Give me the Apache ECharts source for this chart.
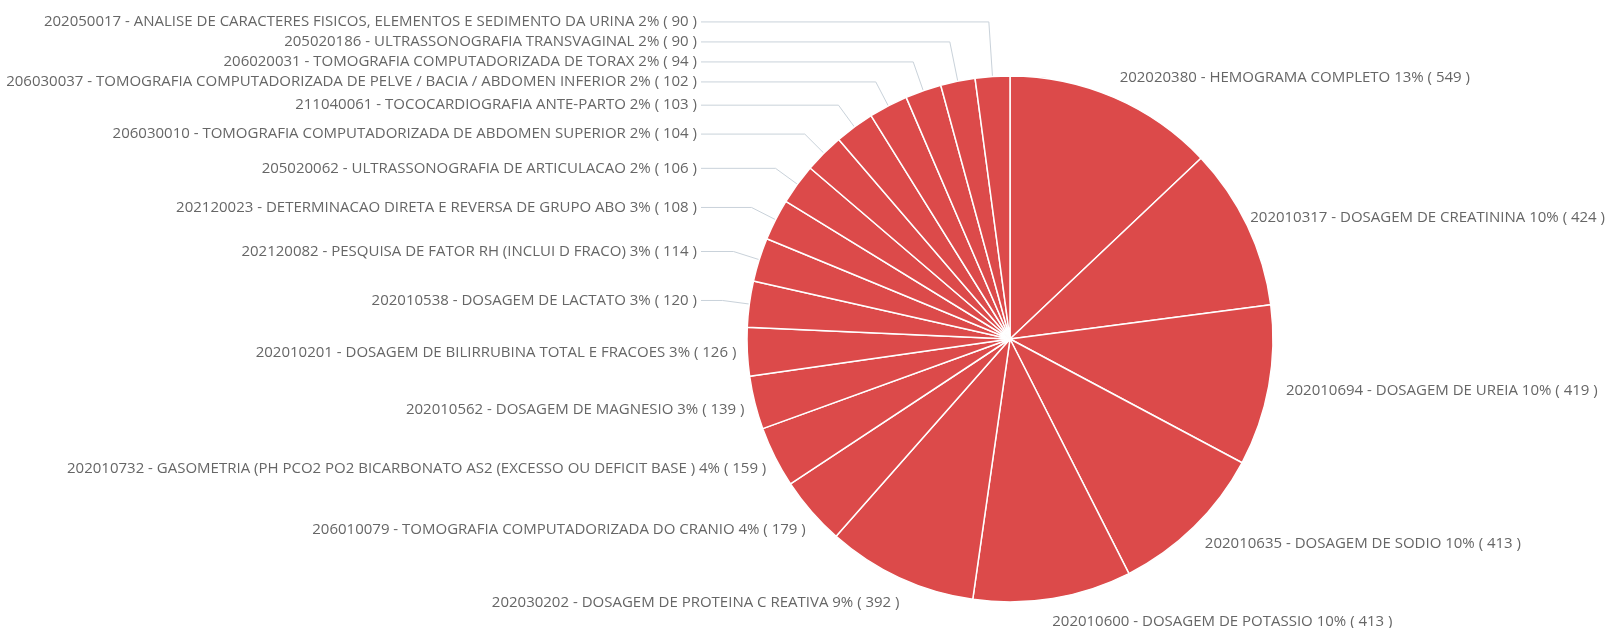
<!DOCTYPE html>
<html>
<head>
<meta charset="utf-8">
<script src="https://cdn.jsdelivr.net/npm/echarts@6/dist/echarts.min.js"></script>
<style>
  html, body { margin: 0; padding: 0; background: #fff; }
  #chart { width: 1612px; height: 628px; }
</style>
</head>
<body>
<div id="chart"></div>
<script>
var procedures = [
  '202020380 - HEMOGRAMA COMPLETO',
  '202010317 - DOSAGEM DE CREATININA',
  '202010694 - DOSAGEM DE UREIA',
  '202010635 - DOSAGEM DE SODIO',
  '202010600 - DOSAGEM DE POTASSIO',
  '202030202 - DOSAGEM DE PROTEINA C REATIVA',
  '206010079 - TOMOGRAFIA COMPUTADORIZADA DO CRANIO',
  '202010732 - GASOMETRIA (PH PCO2 PO2 BICARBONATO AS2 (EXCESSO OU DEFICIT BASE )',
  '202010562 - DOSAGEM DE MAGNESIO',
  '202010201 - DOSAGEM DE BILIRRUBINA TOTAL E FRACOES',
  '202010538 - DOSAGEM DE LACTATO',
  '202120082 - PESQUISA DE FATOR RH (INCLUI D FRACO)',
  '202120023 - DETERMINACAO DIRETA E REVERSA DE GRUPO ABO',
  '205020062 - ULTRASSONOGRAFIA DE ARTICULACAO',
  '206030010 - TOMOGRAFIA COMPUTADORIZADA DE ABDOMEN SUPERIOR',
  '211040061 - TOCOCARDIOGRAFIA ANTE-PARTO',
  '206030037 - TOMOGRAFIA COMPUTADORIZADA DE PELVE / BACIA / ABDOMEN INFERIOR',
  '206020031 - TOMOGRAFIA COMPUTADORIZADA DE TORAX',
  '205020186 - ULTRASSONOGRAFIA TRANSVAGINAL',
  '202050017 - ANALISE DE CARACTERES FISICOS, ELEMENTOS E SEDIMENTO DA URINA'
];
var counts = [549, 424, 419, 413, 413, 392, 179, 159, 139, 126, 120, 114, 108, 106, 104, 103, 102, 94, 90, 90];

var total = counts.reduce(function(a, b) { return a + b; }, 0);

var chartWidth = 1612;
var pieCenter = [1010, 339];
var pieRadius = 263;
var lineLen = 27;
var leftAlignX = 697;   // right edge of the stacked labels on the upper left
var rightMargin = 7;
var labelGap = 20;      // min vertical spacing of the stacked labels

// mid angle of every slice (clockwise from 12 o'clock)
var running = 0;
var midAngles = counts.map(function(c) {
  var a = (running + c / 2) / total * Math.PI * 2;
  running += c;
  return a;
});

// upper-left labels: start at their natural height, push upward when crowded
var stackedY = {};
var prevY = Infinity;
midAngles.forEach(function(a, i) {
  if (a < Math.PI * 1.5) return;
  var y = pieCenter[1] - (pieRadius + lineLen) * Math.cos(a);
  y = Math.min(y, prevY - labelGap);
  stackedY[i] = y;
  prevY = y;
});

// slices on the right half get no leader line (as in the original)
var pieData = procedures.map(function(name, i) {
  var item = { name: name, value: counts[i] };
  if (midAngles[i] < Math.PI) item.labelLine = { show: false };
  return item;
});

function placeLabel(p) {
  var r = p.labelRect;
  var pts = p.labelLinePoints;
  var i = p.dataIndex;

  // right side: pull in a bit, keep inside the canvas
  if (midAngles[i] < Math.PI) {
    return { dx: Math.min(-10, chartWidth - rightMargin - (r.x + r.width)), dy: 5 };
  }
  if (!pts) return;

  // upper left: right-aligned column, leader goes out radially then across
  if (stackedY[i] !== undefined) {
    var y = stackedY[i];
    var ux = Math.sin(midAngles[i]);
    var uy = -Math.cos(midAngles[i]);
    var R = uy < -0.01 ? (y - pieCenter[1]) / uy : pieRadius;
    R = Math.max(pieRadius + 2, Math.min(pieRadius + 80, R));
    var elbow = [pieCenter[0] + R * ux, pieCenter[1] + R * uy];
    return {
      x: leftAlignX,
      y: y,
      align: 'right',
      verticalAlign: 'middle',
      labelLinePoints: [pts[0], elbow, [leftAlignX + 4, y]]
    };
  }

  // lower left: text sits close to the pie, no visible leader
  var p0 = pts[0];
  return { dx: 16, labelLinePoints: [p0, p0, p0] };
}

var chart = echarts.init(document.getElementById('chart'));
chart.setOption({
  backgroundColor: '#fff',
  animation: false,
  series: [{
    type: 'pie',
    center: pieCenter,
    radius: pieRadius,
    startAngle: 90,
    clockwise: true,
    avoidLabelOverlap: true,
    data: pieData,
    itemStyle: { color: '#dc4a4a', borderColor: '#fff', borderWidth: 1.5 },
    label: {
      show: true,
      fontFamily: 'Open Sans',
      fontSize: 15,
      lineHeight: 20,
      color: '#666',
      overflow: 'none',
      formatter: function(p) {
        return p.name + ' ' + Math.round(p.value / total * 100) + '% ( ' + p.value + ' )';
      }
    },
    labelLine: {
      show: true,
      length: lineLen,
      length2: 0,
      lineStyle: { color: '#c9d2da', width: 1 }
    },
    labelLayout: placeLabel,
    emphasis: { disabled: true }
  }]
});
</script>
</body>
</html>
